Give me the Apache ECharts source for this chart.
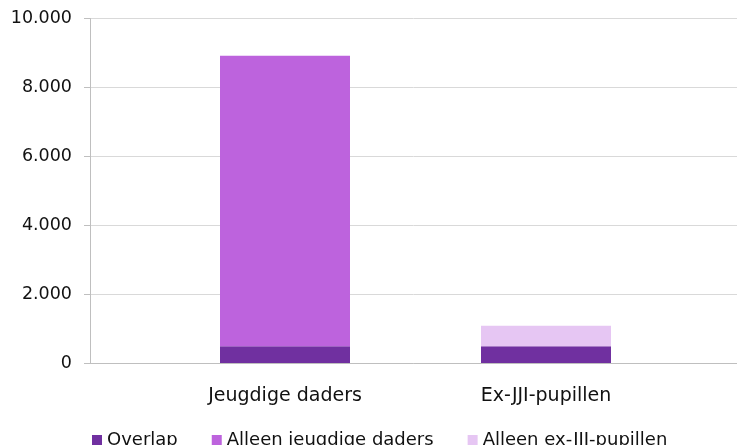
<!DOCTYPE html>
<html><head><meta charset="utf-8">
<script src="https://cdn.jsdelivr.net/npm/echarts@6/dist/echarts.min.js"></script>
<style>html,body{margin:0;padding:0;background:#fff}#c{width:737px;height:445px}</style>
</head><body><div id="c"></div>
<script>
const categories = ['Jeugdige daders', 'Ex-JJI-pupillen'];
const overlap = [485, 485];
const alleenJeugdige = [8435, null];
const alleenExJJI = [null, 595];
const yTicks = { min: 0, max: 10000, interval: 2000 };

const font = 'DejaVu Sans';
const chart = echarts.init(document.getElementById('c'), null, { renderer: 'canvas' });
const fmt = v => v === 0 ? '0' : (v / 1000).toFixed(3);
chart.setOption({
  animation: false,
  textStyle: { fontFamily: font },
  grid: [
    { left: 90, right: 0, top: 18.5, bottom: 82 },
    { left: 154.5, right: 60.5, top: 18.5, bottom: 82 }
  ],
  legend: {
    left: 87, bottom: -9, itemWidth: 10, itemHeight: 10, itemGap: 34,
    icon: 'rect',
    textStyle: { fontFamily: font, fontSize: 18, color: '#111' },
    data: ['Overlap', 'Alleen jeugdige daders', 'Alleen ex-JJI-pupillen']
  },
  xAxis: [
    { gridIndex: 0, type: 'category', data: categories, axisLine: { lineStyle: { color: '#bfbfbf' } },
      axisTick: { show: false }, axisLabel: { show: false } },
    { gridIndex: 1, type: 'category', data: categories, axisLine: { show: false }, axisTick: { show: false },
      axisLabel: { fontFamily: font, fontSize: 19, color: '#111', margin: 24 } }
  ],
  yAxis: [
    { gridIndex: 0, type: 'value', min: yTicks.min, max: yTicks.max, interval: yTicks.interval,
      axisLine: { show: true, lineStyle: { color: '#bfbfbf' } },
      axisTick: { show: true, length: 6, lineStyle: { color: '#bfbfbf' } },
      splitLine: { lineStyle: { color: '#d9d9d9' } },
      axisLabel: { fontFamily: font, fontSize: 17.5, color: '#111', margin: 18, formatter: fmt } },
    { gridIndex: 1, type: 'value', min: yTicks.min, max: yTicks.max, interval: yTicks.interval, show: false }
  ],
  series: [
    { name: 'Overlap', type: 'bar', stack: 's', xAxisIndex: 1, yAxisIndex: 1, barWidth: 130,
      data: overlap, itemStyle: { color: '#7030a0' } },
    { name: 'Alleen jeugdige daders', type: 'bar', stack: 's', xAxisIndex: 1, yAxisIndex: 1, barWidth: 130,
      data: alleenJeugdige, itemStyle: { color: '#bd63dd' } },
    { name: 'Alleen ex-JJI-pupillen', type: 'bar', stack: 's', xAxisIndex: 1, yAxisIndex: 1, barWidth: 130,
      data: alleenExJJI, itemStyle: { color: '#e6c6f3' } }
  ]
});
</script></body></html>
